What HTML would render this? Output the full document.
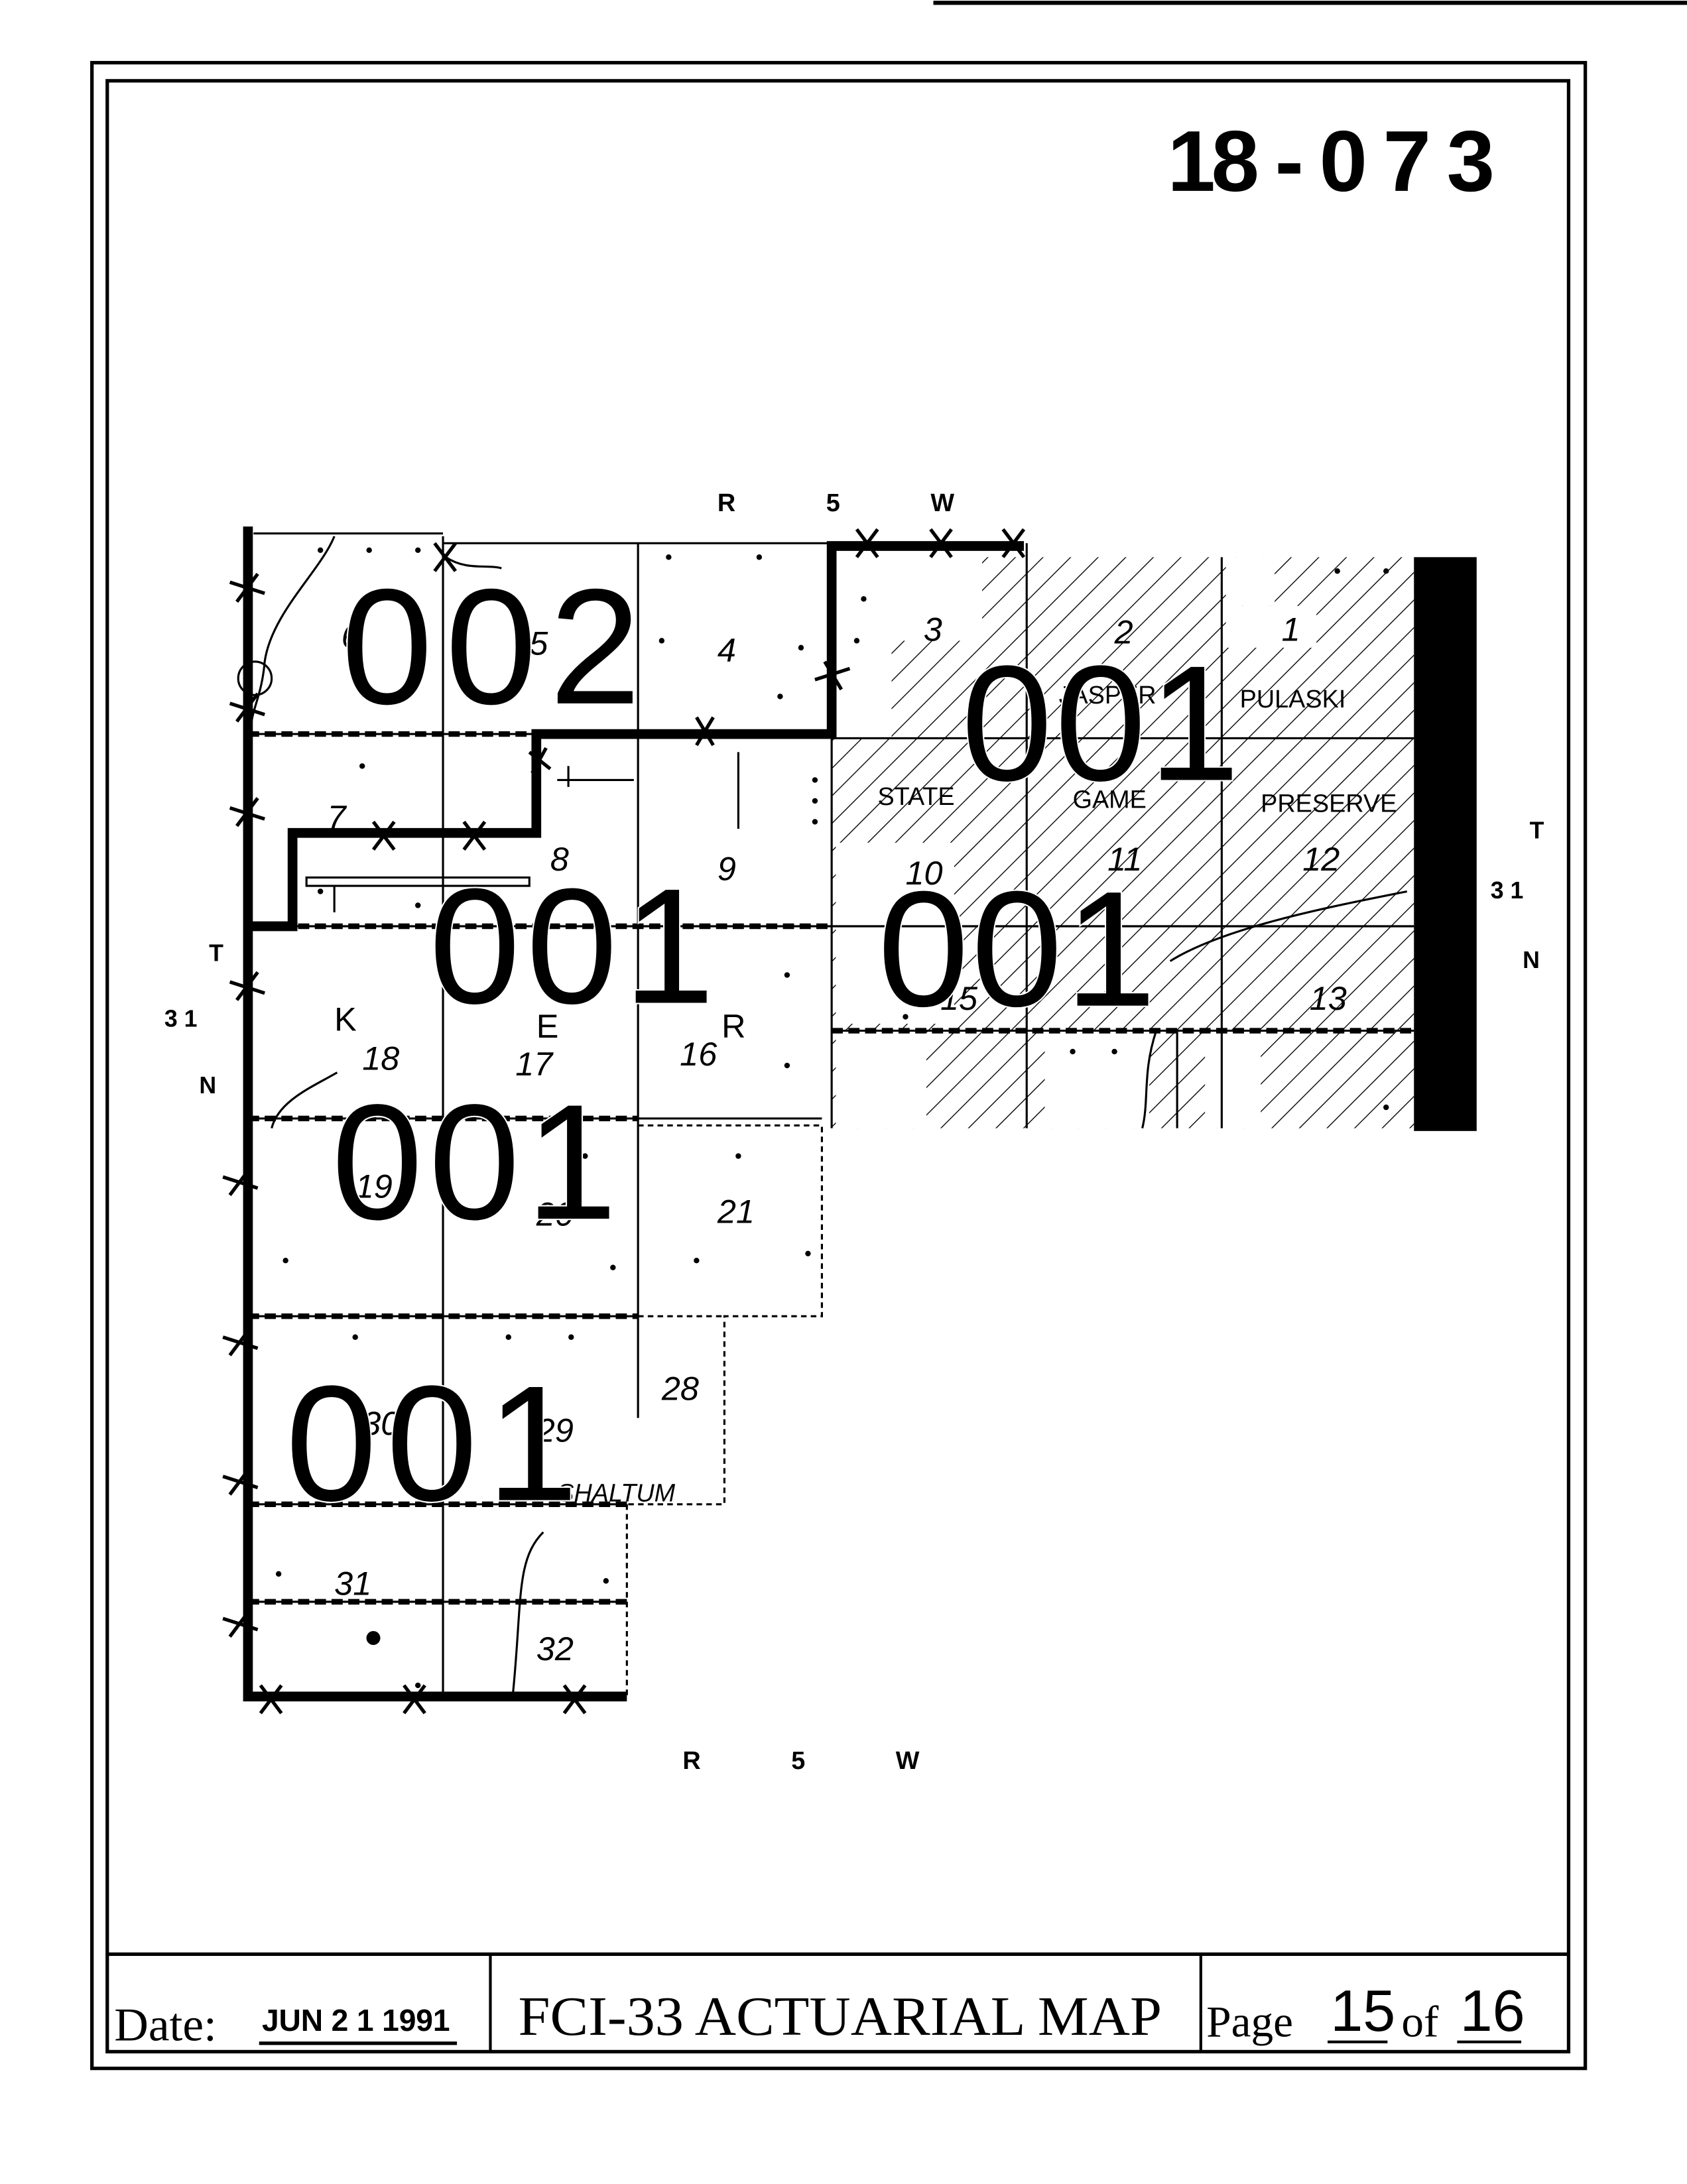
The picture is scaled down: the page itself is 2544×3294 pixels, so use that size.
<!DOCTYPE html>
<html><head><meta charset="utf-8"><style>
html,body{margin:0;padding:0;background:#fff;}
svg{display:block;}
text{font-family:"Liberation Sans",sans-serif;}
.s{font-family:"Liberation Serif",serif;}
</style></head><body>
<svg width="2544" height="3294" viewBox="0 0 1211 1568" xmlns="http://www.w3.org/2000/svg">
<defs>
<pattern id="h" width="14" height="14" patternUnits="userSpaceOnUse" patternTransform="rotate(45)">
<line x1="0" y1="0" x2="0" y2="14" stroke="#000" stroke-width="1.3"/>
</pattern>
</defs>
<rect width="1211" height="1568" fill="#fff"/>
<line x1="670" y1="2" x2="1211" y2="2" stroke="#000" stroke-width="3"/>
<rect x="66" y="45" width="1072" height="1440" fill="none" stroke="#000" stroke-width="2.5"/>
<rect x="77" y="58" width="1049" height="1415" fill="none" stroke="#000" stroke-width="2.5"/>
<line x1="77" y1="1403" x2="1126" y2="1403" stroke="#000" stroke-width="2.5"/>
<line x1="352" y1="1403" x2="352" y2="1473" stroke="#000" stroke-width="2"/>
<line x1="862" y1="1403" x2="862" y2="1473" stroke="#000" stroke-width="2"/>
<text class="s" x="82" y="1465" font-size="34">Date:</text>
<text x="188" y="1458" font-size="22" font-weight="bold" textLength="135">JUN 2 1 1991</text>
<line x1="186" y1="1467" x2="328" y2="1467" stroke="#000" stroke-width="2.5"/>
<text class="s" x="372" y="1461" font-size="40" textLength="462" lengthAdjust="spacingAndGlyphs">FCI-33 ACTUARIAL MAP</text>
<text class="s" x="866" y="1462" font-size="32">Page</text>
<text x="955" y="1458" font-size="42" font-weight="200">15</text>
<line x1="953" y1="1466" x2="996" y2="1466" stroke="#000" stroke-width="2"/>
<text class="s" x="1006" y="1462" font-size="32">of</text>
<text x="1048" y="1458" font-size="42" font-weight="200">16</text>
<line x1="1046" y1="1466" x2="1092" y2="1466" stroke="#000" stroke-width="2"/>
<text x="838" y="137" font-size="62" font-weight="bold" textLength="235">18 - 0 7 3</text>
<text x="515" y="367" font-size="18" font-weight="bold" textLength="170">R    5   W</text>
<text x="490" y="1270" font-size="18" font-weight="bold" textLength="170">R    5   W</text>
<text x="150" y="690" font-size="17" font-weight="bold">T</text>
<text x="118" y="737" font-size="17" font-weight="bold">3 1</text>
<text x="143" y="785" font-size="17" font-weight="bold">N</text>
<text x="1098" y="602" font-size="17" font-weight="bold">T</text>
<text x="1070" y="645" font-size="17" font-weight="bold">3 1</text>
<text x="1093" y="695" font-size="17" font-weight="bold">N</text>
<g>
<path d="M640 460 L705 460 L705 400 L1015 400 L1015 810 L597 810 L597 530 L640 530 Z" fill="url(#h)"/>
<rect x="600" y="605" width="85" height="130" fill="#fff"/>
<rect x="880" y="400" width="35" height="35" fill="#fff"/>
<path d="M945 435 L945 465 L880 465 L880 435 Z" fill="#fff"/>
<rect x="750" y="740" width="75" height="70" fill="#fff"/>
<rect x="600" y="740" width="65" height="70" fill="#fff"/>
<rect x="865" y="740" width="40" height="70" fill="#fff"/>
</g>
<rect x="1015" y="400" width="45" height="412" fill="#000"/>
<g stroke="#000" stroke-width="1.5" fill="none">
<path d="M318 385 V1218 M458 390 V1018 M597 390 V810 M737 390 V810 M877 400 V810"/>
<path d="M178 527 H597 M597 530 H1015 M178 665 H1015 M178 803 H590 M597 740 H1015 M178 945 H458 M178 1080 H450 M178 1150 H450"/>
<path d="M458 808 H590 V945 H520 V1080 H450 M458 945 H520" stroke-dasharray="4 3"/>
<path d="M450 1080 V1218" stroke-dasharray="4 3"/>
<path d="M182 383 H318 M318 390 H458 V390 H597" />
</g>
<g stroke="#000" stroke-width="4" fill="none" stroke-dasharray="8 4">
<path d="M178 527 H458 M178 665 H597 M178 803 H458 M178 945 H458 M178 1080 H450 M178 1150 H450 M597 740 H1015"/>
</g>
<g stroke="#000" stroke-width="7" fill="none" stroke-linejoin="miter">
<path d="M178 378 V1218 H450"/>
<path d="M735 392 H597 V527 H385 V598 H210 V665 H178"/>
</g>
<g stroke="#000" stroke-width="2.5">
<path d="M165 418 l25 8 M170 432 l15 -20"/>
<path d="M165 505 l25 8 M170 518 l15 -20"/>
<path d="M165 580 l25 8 M170 593 l15 -20"/>
<path d="M165 705 l25 8 M170 718 l15 -20"/>
<path d="M160 845 l25 8 M165 858 l15 -20"/>
<path d="M160 960 l25 8 M165 973 l15 -20"/>
<path d="M160 1060 l25 8 M165 1073 l15 -20"/>
<path d="M160 1162 l25 8 M165 1175 l15 -20"/>
<path d="M187 1210 l15 20 M202 1210 l-15 20"/>
<path d="M290 1210 l15 20 M305 1210 l-15 20"/>
<path d="M405 1210 l15 20 M420 1210 l-15 20"/>
<path d="M615 380 l15 20 M630 380 l-15 20"/>
<path d="M668 380 l15 20 M683 380 l-15 20"/>
<path d="M720 380 l15 20 M735 380 l-15 20"/>
<path d="M585 488 l25 -8 M592 475 l12 20"/>
<path d="M500 515 l12 20 M512 515 l-12 20"/>
<path d="M380 540 l15 12 M382 555 l10 -18"/>
<path d="M268 590 l15 20 M283 590 l-15 20"/>
<path d="M333 590 l15 20 M348 590 l-15 20"/>
<path d="M312 390 l15 20 M327 390 l-15 20"/>
</g>
<g fill="#000">
<circle cx="230" cy="395" r="2"/><circle cx="265" cy="395" r="2"/><circle cx="300" cy="395" r="2"/>
<circle cx="480" cy="400" r="2"/><circle cx="545" cy="400" r="2"/><circle cx="475" cy="460" r="2"/><circle cx="575" cy="465" r="2"/><circle cx="560" cy="500" r="2"/>
<circle cx="620" cy="430" r="2"/><circle cx="615" cy="460" r="2"/><circle cx="960" cy="410" r="2"/><circle cx="995" cy="410" r="2"/>
<circle cx="260" cy="550" r="2"/><circle cx="230" cy="640" r="2"/><circle cx="300" cy="650" r="2"/>
<circle cx="585" cy="560" r="2"/><circle cx="585" cy="575" r="2"/><circle cx="585" cy="590" r="2"/>
<circle cx="565" cy="700" r="2"/><circle cx="565" cy="765" r="2"/><circle cx="640" cy="700" r="2"/><circle cx="650" cy="730" r="2"/>
<circle cx="420" cy="830" r="2"/><circle cx="205" cy="905" r="2"/><circle cx="440" cy="910" r="2"/>
<circle cx="530" cy="830" r="2"/><circle cx="500" cy="905" r="2"/><circle cx="580" cy="900" r="2"/>
<circle cx="255" cy="960" r="2"/><circle cx="365" cy="960" r="2"/><circle cx="410" cy="960" r="2"/>
<circle cx="200" cy="1130" r="2"/><circle cx="435" cy="1135" r="2"/><circle cx="300" cy="1210" r="2"/>
<circle cx="268" cy="1176" r="5"/>
<circle cx="770" cy="755" r="2"/><circle cx="800" cy="755" r="2"/><circle cx="995" cy="795" r="2"/>
</g>
<g stroke="#000" stroke-width="1.5" fill="none">
<path d="M240 385 C230 410 195 440 190 475 C188 500 180 510 180 525"/>
<circle cx="183" cy="487" r="12"/>
<path d="M320 400 C335 410 350 405 360 408"/>
<rect x="220" y="630" width="160" height="6"/>
<path d="M240 636 V655"/>
<path d="M242 770 C225 780 200 790 195 810"/>
<path d="M400 560 H455 M408 550 V565"/>
<path d="M530 540 V595"/>
<path d="M390 1100 C370 1120 375 1150 368 1218"/>
<path d="M830 740 C820 770 825 790 820 810"/>
<path d="M840 690 C880 665 960 650 1010 640"/>
<path d="M845 740 V810"/>
</g>
<g font-size="24" font-style="italic">
<text x="245" y="465">6</text><text x="380" y="470">5</text><text x="515" y="475">4</text><text x="663" y="460">3</text>
<text x="800" y="462">2</text><text x="920" y="460">1</text>
<text x="235" y="595">7</text><text x="395" y="625">8</text><text x="515" y="632">9</text>
<text x="650" y="635">10</text><text x="795" y="625">11</text><text x="935" y="625">12</text>
<text x="260" y="768">18</text><text x="370" y="772">17</text><text x="488" y="765">16</text>
<text x="675" y="725">15</text><text x="940" y="725">13</text>
<text x="255" y="860">19</text><text x="385" y="880">20</text><text x="515" y="878">21</text>
<text x="260" y="1030">30</text><text x="385" y="1035">29</text><text x="475" y="1005">28</text>
<text x="240" y="1145">31</text><text x="385" y="1192">32</text>
</g>
<g font-size="24">
<text x="240" y="740">K</text><text x="385" y="745">E</text><text x="518" y="745">R</text>
</g>
<g font-size="18">
<text x="630" y="578">STATE</text><text x="770" y="580">GAME</text><text x="905" y="583">PRESERVE</text>
<text x="760" y="505">JASPER</text><text x="890" y="508">PULASKI</text>
<text x="400" y="1078" font-style="italic">SHALTUM</text>
</g>
<g font-size="118" stroke="#fff" stroke-width="2" paint-order="stroke">
<text x="245" y="505" textLength="215">002</text>
<text x="690" y="560" textLength="200">001</text>
<text x="308" y="720" textLength="205">001</text>
<text x="630" y="722" textLength="200">001</text>
<text x="238" y="875" textLength="205">001</text>
<text x="205" y="1077" textLength="210">001</text>
</g>
</svg>
</body></html>
